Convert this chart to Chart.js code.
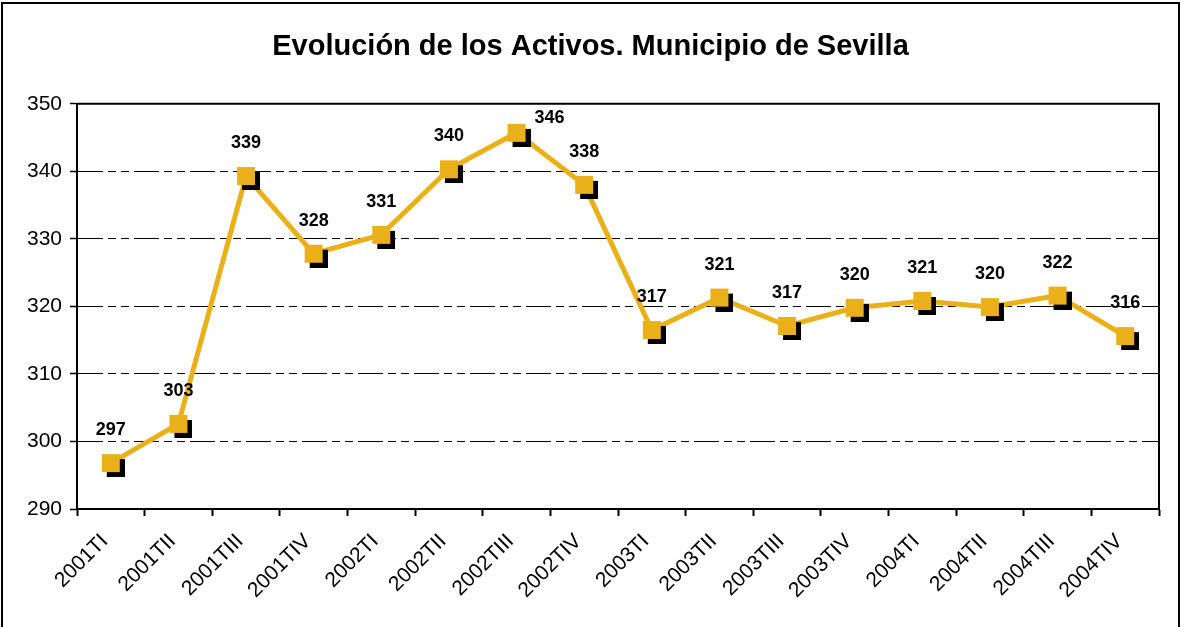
<!DOCTYPE html>
<html>
<head>
<meta charset="utf-8">
<script src="https://cdn.jsdelivr.net/npm/chart.js@4.4.0/dist/chart.umd.min.js"></script>
<style>
  html, body { margin: 0; padding: 0; background: #fff; }
  #wrap { width: 1181px; height: 627px; }
</style>
</head>
<body>
<div id="wrap"><canvas id="activos" width="1181" height="627"></canvas></div>
<script>
// datos (miles de activos)
const periodos = ['2001TI', '2001TII', '2001TIII', '2001TIV',
                  '2002TI', '2002TII', '2002TIII', '2002TIV',
                  '2003TI', '2003TII', '2003TIII', '2003TIV',
                  '2004TI', '2004TII', '2004TIII', '2004TIV'];
const activos = [296.8, 302.6, 339.3, 327.8, 330.6, 340.3, 345.7, 338.0,
                 316.5, 321.3, 317.1, 319.8, 320.8, 319.9, 321.6, 315.6];
const ejeY = [290, 300, 310, 320, 330, 340, 350];

const FONT = 'Arial, "Liberation Sans", sans-serif';
const AMARILLO = '#EAB01A';

// marcador cuadrado con sombra negra
function marcador() {
    const c = document.createElement('canvas');
    c.width = 28; c.height = 28;
    const g = c.getContext('2d');
    g.fillStyle = '#000';
    g.fillRect(10, 10, 18, 18);
    g.fillStyle = AMARILLO;
    g.fillRect(5, 5, 18, 18);
    return c;
}

// borde exterior y marco del area de trazado
const marcos = {
    id: 'marcos',
    afterDraw(chart) {
        const ctx = chart.ctx;
        const a = chart.chartArea;
        ctx.save();
        ctx.strokeStyle = '#000';
        ctx.lineWidth = 2;
        ctx.strokeRect(2, 3, 1177, 700);
        ctx.beginPath();
        ctx.moveTo(a.left, a.top);
        ctx.lineTo(a.right, a.top);
        ctx.lineTo(a.right, a.bottom);
        ctx.stroke();
        ctx.restore();
    }
};

// etiquetas de valor encima de cada punto
const etiquetas = {
    id: 'etiquetas',
    afterDatasetsDraw(chart) {
        const ctx = chart.ctx;
        const meta = chart.getDatasetMeta(0);
        ctx.save();
        ctx.font = 'bold 18px ' + FONT;
        ctx.fillStyle = '#000';
        ctx.textAlign = 'center';
        ctx.textBaseline = 'middle';
        meta.data.forEach((p, i) => {
            let dx = 0, dy = -33;
            if (i === 6) { dx = 33; dy = -15; } // 346 desplazada en el original
            ctx.fillText(Math.round(activos[i]), p.x + dx, p.y + dy);
        });
        ctx.restore();
    }
};

new Chart(document.getElementById('activos').getContext('2d'), {
    type: 'line',
    data: {
        labels: periodos,
        datasets: [{
            data: activos,
            borderColor: AMARILLO,
            borderWidth: 5,
            pointStyle: marcador(),
            tension: 0
        }]
    },
    options: {
        responsive: false,
        devicePixelRatio: 1,
        animation: false,
        events: [],
        layout: { padding: 0 },
        plugins: {
            legend: { display: false },
            tooltip: { enabled: false },
            title: {
                display: true,
                text: 'Evolución de los Activos. Municipio de Sevilla',
                color: '#000',
                font: { family: FONT, size: 29, weight: 'bold' },
                padding: { top: 30, bottom: 39 }
            }
        },
        scales: {
            x: {
                offset: true,
                grid: {
                    offset: true,
                    drawOnChartArea: false,
                    color: '#000',
                    tickLength: 7,
                    tickWidth: 2
                },
                border: { color: '#000', width: 2 },
                ticks: {
                    color: '#000',
                    font: { family: FONT, size: 21 },
                    maxRotation: 45,
                    minRotation: 45,
                    autoSkip: false,
                    padding: 13,
                    labelOffset: -6
                },
                afterFit(s) { s.height = 118; }
            },
            y: {
                min: ejeY[0],
                max: ejeY[ejeY.length - 1],
                afterBuildTicks(s) { s.ticks = ejeY.map(v => ({ value: v })); },
                grid: {
                    color: '#000',
                    lineWidth: 1,
                    tickLength: 7,
                    tickWidth: 1.5,
                    tickBorderDash: []
                },
                border: { color: '#000', width: 2, dash: [25, 5, 8, 5, 8, 5] },
                ticks: {
                    color: '#000',
                    font: { family: FONT, size: 21 },
                    padding: 8
                },
                afterFit(s) { s.width = 77; }
            },
            derecha: {
                position: 'right',
                display: true,
                grid: { display: false },
                border: { display: false },
                ticks: { display: false },
                afterFit(s) { s.width = 22; }
            }
        }
    },
    plugins: [marcos, etiquetas]
});
</script>
</body>
</html>
